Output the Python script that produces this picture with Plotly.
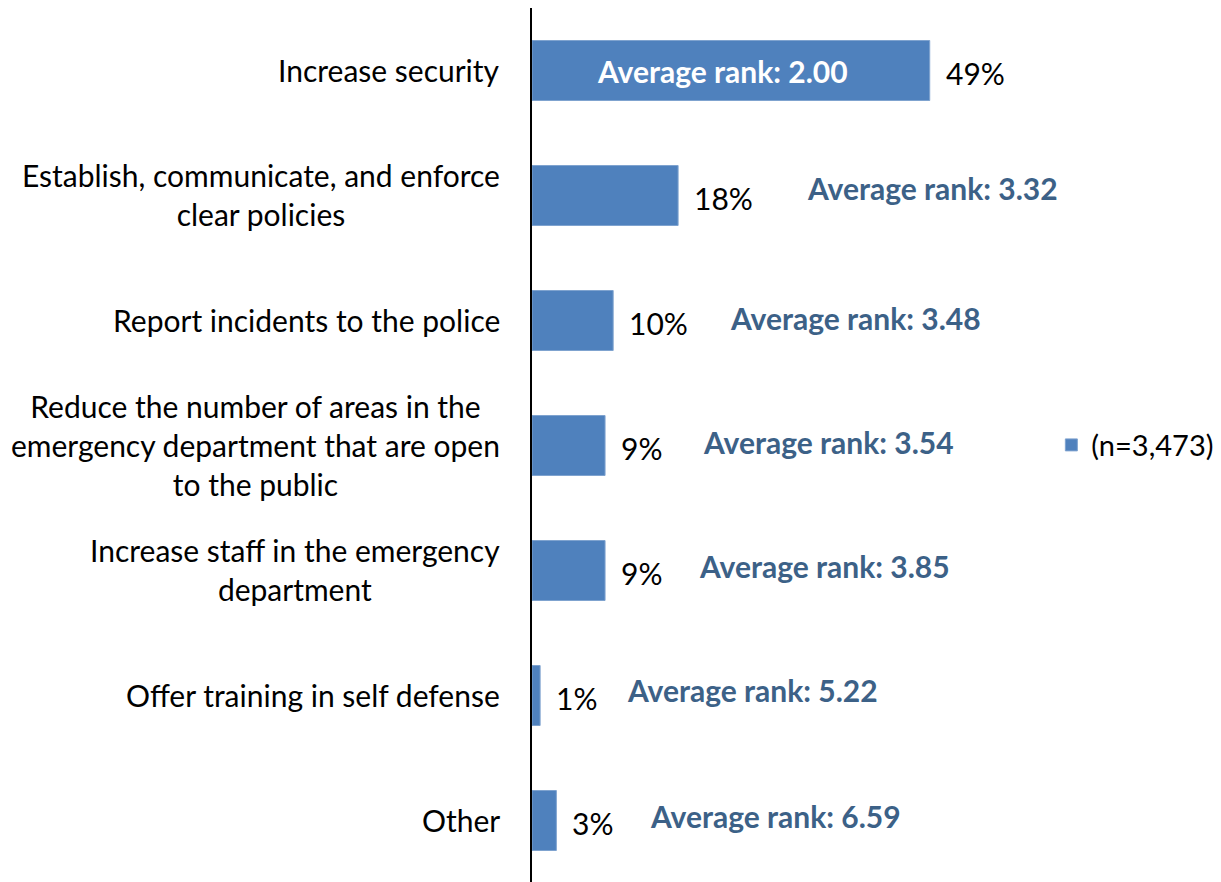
import plotly.graph_objects as go

categories = [
    "Increase security",
    "Establish, communicate, and enforce clear policies",
    "Report incidents to the police",
    "Reduce the number of areas in the emergency department that are open to the public",
    "Increase staff in the emergency department",
    "Offer training in self defense",
    "Other",
]
category_labels = [
    "Increase security",
    "Establish, communicate, and enforce<br>clear policies",
    "Report incidents to the police",
    "Reduce the number of areas in the<br>emergency department that are open<br>to the public",
    "Increase staff in the emergency<br>department",
    "Offer training in self defense",
    "Other",
]
percent = [49, 18, 10, 9, 9, 1, 3]
avg_rank = ["2.00", "3.32", "3.48", "3.54", "3.85", "5.22", "6.59"]
legend_name = "(n=3,473)"

# label placement (style only): pixel shifts of rank labels
rank_xshift = [None, 127, 115, 96, 92, 85, 92]
rank_yshift = [0, 8, 3, 4, 5, 6, 5]

FONT = "Lato, 'Open Sans', sans-serif"
FS = 30
BAR = "#4F81BD"
RANK = "#3C6187"

fig = go.Figure()
fig.add_trace(go.Bar(
    x=percent, y=categories, orientation="h",
    marker=dict(color=BAR, line=dict(color="#7FA3CF", width=1)),
    width=0.48, name=legend_name, showlegend=True, hoverinfo="x+y",
))

ann = []
for i, cat in enumerate(categories):
    ann.append(dict(x=0, y=cat, xref="x", yref="y", text=category_labels[i],
                    xanchor="right", yanchor="middle", align="center", xshift=-30,
                    yshift=1,
                    showarrow=False, font=dict(family=FONT, size=FS, color="black")))
    ann.append(dict(x=percent[i], y=cat, xref="x", yref="y", text=f"{percent[i]}%",
                    xanchor="left", yanchor="middle", xshift=14, yshift=-2,
                    showarrow=False, font=dict(family=FONT, size=FS, color="black")))
    if rank_xshift[i] is None:
        ann.append(dict(x=percent[i] / 2, y=cat, xref="x", yref="y",
                        text=f"<b>Average rank: {avg_rank[i]}</b>",
                        xanchor="center", yanchor="middle", xshift=-8, yshift=rank_yshift[i],
                        showarrow=False, font=dict(family=FONT, size=FS, color="white")))
    else:
        ann.append(dict(x=percent[i], y=cat, xref="x", yref="y",
                        text=f"<b>Average rank: {avg_rank[i]}</b>",
                        xanchor="left", yanchor="middle", xshift=rank_xshift[i],
                        yshift=rank_yshift[i],
                        showarrow=False, font=dict(family=FONT, size=FS, color=RANK)))

fig.update_layout(
    width=1221, height=882,
    margin=dict(l=524, r=210, t=0, b=7),
    paper_bgcolor="white", plot_bgcolor="white",
    font=dict(family=FONT, size=FS, color="black"),
    xaxis=dict(range=[0, 60], visible=False, showgrid=False, zeroline=False),
    yaxis=dict(autorange="reversed", showticklabels=False, showgrid=False,
               zeroline=False, showline=True, linecolor="black", linewidth=1.5,
               ticks=""),
    bargap=0.52,
    annotations=ann,
    legend=dict(xref="container", yref="container", x=0.8545, y=0.5045,
                xanchor="left", yanchor="middle", font=dict(family=FONT, size=29),
                bgcolor="rgba(0,0,0,0)"),
    showlegend=True,
)

fig.write_html("out.html")
